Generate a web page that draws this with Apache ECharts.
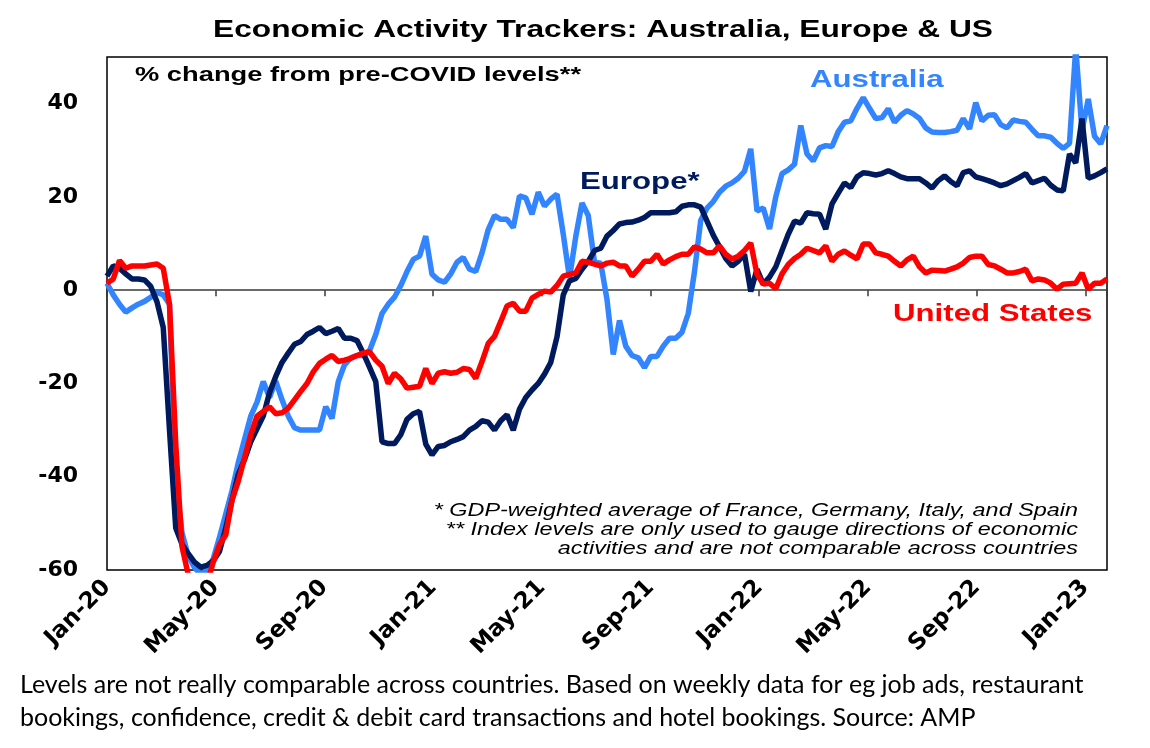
<!DOCTYPE html>
<html>
<head>
<meta charset="utf-8">
<title>Economic Activity Trackers</title>
<script src="https://cdn.jsdelivr.net/npm/echarts@6/dist/echarts.min.js"></script>
<style>
  html, body { margin: 0; padding: 0; background: #fff; }
  #chart { width: 1150px; height: 748px; }
</style>
</head>
<body>
<div id="chart"></div>
<script>
// weekly readings, first week of Jan 2020 onwards (% change from pre-COVID levels)
var australia = [
  1.5, -1, -3, -4.7, -3.8, -3, -2.4, -1.5, -0.5, -1,
  -3, -40, -52, -57, -59.5, -61, -60, -57.6, -53, -48,
  -43, -37, -32, -27, -24, -19.6, -23, -19.5, -23.5, -27,
  -29.5, -30, -30, -30, -30, -25, -27.5, -19.6, -16, -14.5,
  -14, -14, -13, -9.5, -5, -3, -1.5, 1, 4, 6.6,
  7.3, 11.6, 3.4, 2.2, 1.7, 3.5, 6, 7, 4.5, 4,
  8, 13, 16, 15.2, 15.2, 13.4, 20.2, 19.8, 16.3, 21,
  18, 19.5, 20.6, 12, 2.6, 11.5, 18.7, 16, 6, 5.8,
  -2, -13.8, -6.5, -12, -14, -14.5, -16.6, -14.2, -14.2, -12,
  -10.3, -10.3, -9, -5, 4, 15, 17.6, 19, 21, 22.3,
  23, 24, 25.5, 30.3, 17, 17.6, 13.1, 20, 25, 25.8,
  27, 35.3, 29.2, 27.7, 30.5, 31, 30.8, 34, 36, 36.3,
  39, 41.3, 39, 36.8, 37, 38.9, 36, 37.5, 38.5, 37.8,
  36.8, 34.8, 33.9, 33.8, 33.8, 34, 34.3, 36.8, 34.6, 40.2,
  36.3, 37.5, 37.6, 35.5, 34.8, 36.5, 36.2, 36, 34.5, 33.1,
  33.1, 32.8, 31.5, 30.4, 31.5, 52, 34.2, 41, 33, 31.4,
  35.3
];
var europe = [
  3, 5.2, 4.7, 3.5, 2.4, 2.4, 2.2, 0.8, -2.5, -8,
  -30, -51, -54.5, -56.5, -58.3, -59.4, -59, -58, -56, -51,
  -45, -39.5, -36.3, -32.5, -29.7, -27, -22, -18.5, -15.5, -13.5,
  -11.6, -11, -9.5, -8.8, -8, -9.3, -8.8, -8.2, -10.3, -10.3,
  -10.8, -13.5, -16.5, -19.6, -32.5, -32.9, -32.9, -31, -27.7, -26.5,
  -26, -33, -35.3, -33.5, -33.3, -32.5, -32, -31.4, -30, -29.2,
  -28, -28.3, -30, -28, -26.7, -30, -25.5, -23, -21.4, -20,
  -18, -15.5, -10, -1, 2, 2.5, 4.5, 6.2, 8.5, 9,
  11.6, 12.8, 14.2, 14.5, 14.6, 15, 15.6, 16.6, 16.6, 16.6,
  16.6, 16.8, 18, 18.3, 18.3, 17.8, 14.8, 11.8, 9.3, 6.8,
  5.2, 6.2, 7.7, -0.3, 4.5, 1.3, 2.8, 5, 8.5, 12,
  14.8, 14.4, 16.6, 16.4, 16.3, 13.1, 18.5, 20.8, 23, 22,
  24.3, 25.2, 25, 24.7, 25, 25.6, 25, 24.3, 23.9, 23.9,
  23.9, 23, 21.9, 23.5, 24.5, 23.3, 22.4, 25.2, 25.6, 24.3,
  23.9, 23.5, 23, 22.4, 22.8, 23.5, 24.2, 25, 23, 23.5,
  24, 22.5, 21.5, 21.3, 29.2, 27.3, 36.8, 24, 24.5, 25.2,
  26
];
var unitedStates = [
  1.5, 2.4, 6.4, 4.7, 5.2, 5.2, 5.2, 5.4, 5.6, 4.7,
  -3, -33, -55, -61, -64, -65, -63, -58.3, -54.5, -52.5,
  -45, -41, -36, -31, -27, -26, -25, -26.5, -26.3, -25.3,
  -23.5, -21.7, -20, -17.5, -15.7, -14.8, -14, -15.3, -15, -14.6,
  -14, -13.5, -13.2, -15, -16.3, -20, -17.8, -19, -21, -20.8,
  -20.6, -16.8, -20, -17.8, -17.5, -17.8, -17.6, -16.8, -17, -18.9,
  -15.3, -11.4, -9.9, -6.7, -3.4, -2.8, -4.5, -4.5, -1.7, -0.9,
  -0.2, -0.4, 1, 3, 3.4, 3.7, 6.2, 6, 5.6, 5.2,
  5.8, 6, 5.2, 5.2, 3, 4.5, 6.2, 6.2, 7.7, 5.6,
  6.5, 7.2, 7.7, 7.7, 9.3, 8.8, 8, 8, 9.5, 7.7,
  6.7, 7.3, 8.5, 10.1, 3.4, 1.3, 1.5, 0.3, 3.5, 5.5,
  6.8, 7.7, 9, 8.5, 8, 9.5, 6.2, 7.7, 8.4, 7.5,
  6.7, 9.9, 9.9, 8, 7.7, 7.3, 6.2, 5.2, 6.5, 7.3,
  5, 3.7, 4.3, 4.2, 4.1, 4.5, 5, 5.8, 7, 7.3,
  7.3, 5.5, 5.2, 4.5, 3.7, 3.7, 4, 4.5, 2, 2.4,
  2.2, 1.5, 0.2, 1.3, 1.4, 1.5, 3.7, 0.2, 1.5, 1.5,
  2.4
];
var xTickLabels = ['Jan-20', 'May-20', 'Sep-20', 'Jan-21', 'May-21', 'Sep-21', 'Jan-22', 'May-22', 'Sep-22', 'Jan-23'];
var yTicks = [-60, -40, -20, 0, 20, 40];
var footnotes = [
  '* GDP-weighted average of France, Germany, Italy, and Spain',
  '** Index levels are only used to gauge directions of economic',
  'activities and are not comparable across countries'
];
var caption = [
  'Levels are not really comparable across countries. Based on weekly data for eg job ads, restaurant',
  'bookings, confidence, credit & debit card transactions and hotel bookings. Source: AMP'
];

var MONTH = 30.4375;
// week number -> months since Jan 2020
function toPoints(arr) {
  var out = [];
  for (var i = 0; i < arr.length; i++) {
    out.push([i * 7 / MONTH, arr[i]]);
  }
  return out;
}
var lastX = (australia.length - 1) * 7 / MONTH;

var BOLD = 'bold 24px "Liberation Sans", Arial, sans-serif';
var ITAL = 'italic 18px "Liberation Sans", Arial, sans-serif';
var CAP = '25px Lato, "Open Sans", sans-serif';
var STRETCH = 1.3;

var myChart = echarts.init(document.getElementById('chart'));
var option = {
  animation: false,
  backgroundColor: '#ffffff',
  grid: {
    left: 107, top: 57, width: 1000, height: 513,
    show: true, borderColor: '#000', borderWidth: 1.5,
    containLabel: false
  },
  xAxis: [
    {
      type: 'value', min: 0, max: lastX, interval: 4,
      position: 'bottom',
      axisLine: { show: false, onZero: false },
      axisTick: { show: false },
      splitLine: { show: false },
      axisLabel: {
        rotate: 45, margin: 14, showMaxLabel: true,
        color: '#000', fontWeight: 'bold', fontSize: 23,
        fontFamily: '"DejaVu Sans", sans-serif',
        formatter: function (v) {
          var k = Math.round(v / 4);
          return Math.abs(v - k * 4) < 0.01 ? (xTickLabels[k] || '') : '';
        }
      }
    },
    {
      // zero line with its little ticks
      type: 'value', min: 0, max: lastX, interval: 4,
      position: 'top',
      axisLine: { show: true, onZero: true, lineStyle: { color: '#3a3a3a', width: 1.5 } },
      axisTick: { show: true, inside: true, length: 6, lineStyle: { color: '#3a3a3a', width: 1.5 } },
      axisLabel: { show: false },
      splitLine: { show: false }
    }
  ],
  yAxis: {
    type: 'value', min: -60, max: 50, interval: 20,
    axisLine: { show: false },
    axisTick: { show: false },
    splitLine: { show: false },
    axisLabel: {
      margin: 29, showMaxLabel: false,
      color: '#000', fontWeight: 'bold', fontSize: 22,
      fontFamily: '"DejaVu Sans", sans-serif',
      formatter: function (v) { return yTicks.indexOf(v) >= 0 ? String(v) : ''; }
    }
  },
  series: [
    {
      name: 'Australia', type: 'line', showSymbol: false, clip: true,
      data: toPoints(australia),
      lineStyle: { color: '#3385ff', width: 5.5 }, itemStyle: { color: '#3385ff' }
    },
    {
      name: 'Europe', type: 'line', showSymbol: false, clip: true,
      data: toPoints(europe),
      lineStyle: { color: '#001a5e', width: 5.5 }, itemStyle: { color: '#001a5e' }
    },
    {
      name: 'United States', type: 'line', showSymbol: false, clip: true,
      data: toPoints(unitedStates),
      lineStyle: { color: '#ff0000', width: 5.5 }, itemStyle: { color: '#ff0000' }
    }
  ],
  graphic: [
    { type: 'text', x: 603, y: 30, scaleX: 1.32,
      style: { text: 'Economic Activity Trackers: Australia, Europe & US', font: BOLD, fill: '#000', align: 'center', verticalAlign: 'middle' } },
    { type: 'text', x: 135, y: 75, scaleX: STRETCH,
      style: { text: '% change from pre-COVID levels**', font: 'bold 21px "Liberation Sans", Arial, sans-serif', fill: '#000', align: 'left', verticalAlign: 'middle' } },
    { type: 'text', x: 810, y: 80, scaleX: STRETCH,
      style: { text: 'Australia', font: BOLD, fill: '#3385ff', align: 'left', verticalAlign: 'middle' } },
    { type: 'text', x: 580, y: 182, scaleX: STRETCH,
      style: { text: 'Europe*', font: BOLD, fill: '#001a5e', align: 'left', verticalAlign: 'middle' } },
    { type: 'text', x: 893, y: 314, scaleX: STRETCH,
      style: { text: 'United States', font: BOLD, fill: '#ff0000', align: 'left', verticalAlign: 'middle' } },
    { type: 'text', x: 1078, y: 511, scaleX: STRETCH,
      style: { text: footnotes[0], font: ITAL, fill: '#000', align: 'right', verticalAlign: 'middle' } },
    { type: 'text', x: 1078, y: 530, scaleX: STRETCH,
      style: { text: footnotes[1], font: ITAL, fill: '#000', align: 'right', verticalAlign: 'middle' } },
    { type: 'text', x: 1078, y: 549, scaleX: STRETCH,
      style: { text: footnotes[2], font: ITAL, fill: '#000', align: 'right', verticalAlign: 'middle' } },
    { type: 'text', x: 20, y: 685,
      style: { text: caption[0], font: CAP, fill: '#000', align: 'left', verticalAlign: 'middle' } },
    { type: 'text', x: 20, y: 718,
      style: { text: caption[1], font: CAP, fill: '#000', align: 'left', verticalAlign: 'middle' } }
  ]
};
myChart.setOption(option);
</script>
</body>
</html>
